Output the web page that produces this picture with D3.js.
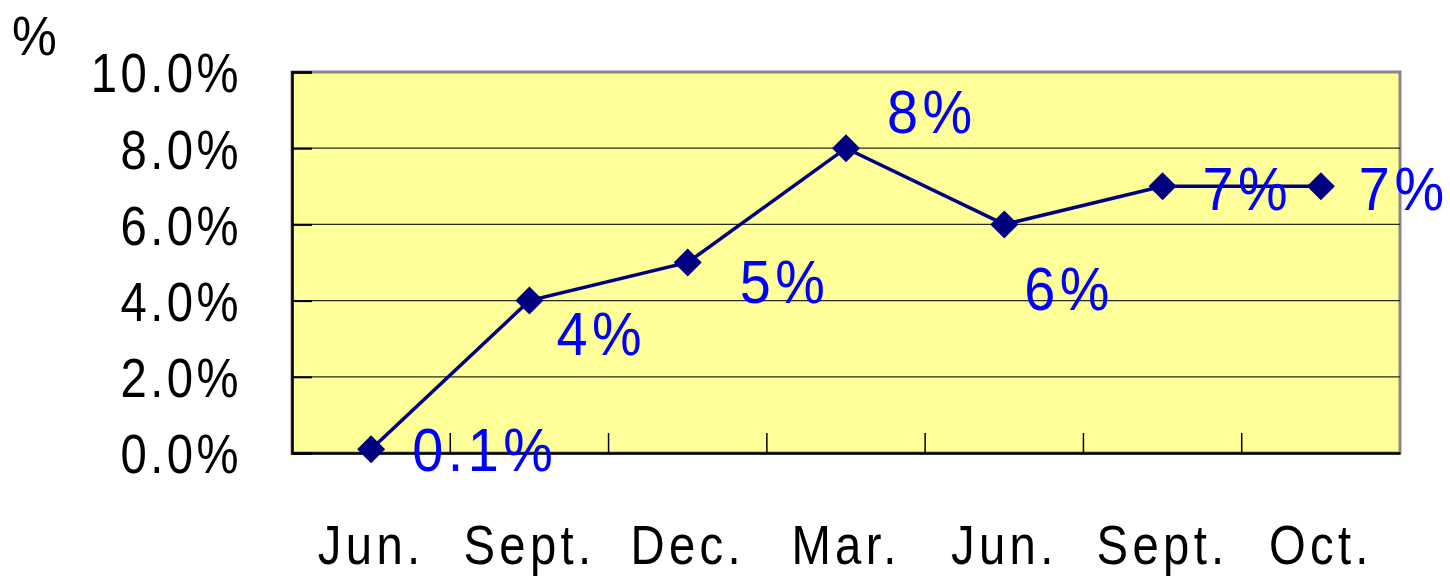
<!DOCTYPE html>
<html><head><meta charset="utf-8">
<script src="https://cdn.jsdelivr.net/npm/d3@7"></script>
<style>body{margin:0;background:#fff}svg{display:block}text{font-family:"Liberation Sans",Arial,sans-serif}</style>
</head><body><svg id="c" width="1450" height="578"></svg>
<script>
const categories = ["Jun.","Sept.","Dec.","Mar.","Jun.","Sept.","Oct."];
const values = [0.1, 4, 5, 8, 6, 7, 7];
const valueLabels = ["0.1%","4%","5%","8%","6%","7%","7%"];
const yTicks = [0, 2, 4, 6, 8, 10];
const labelOffsets = [[41,22],[27,54],[52,40],[41,-15],[20,86],[40,24],[38,24]];

const svg = d3.select("#c");
const L = 292, R = 1400, T = 72, B = 453;
const SX = 0.86;
const x = d3.scaleBand().domain(d3.range(categories.length)).range([L, R]);
const y = d3.scaleLinear().domain([0, 10]).range([B, T]);
const g = svg.append("g");

g.append("rect").attr("x", L).attr("y", T).attr("width", R-L).attr("height", B-T)
  .attr("fill", "#FFFF99").attr("stroke", "#888").attr("stroke-width", 3);

// gridlines
g.selectAll(".grid").data(yTicks.filter(d => d > 0 && d < 10)).join("line")
  .attr("x1", L).attr("x2", R).attr("y1", d => y(d)).attr("y2", d => y(d))
  .attr("stroke", "#2a2a1a").attr("stroke-width", 1.3);

// y axis
const yAxis = d3.axisLeft(y).tickValues(yTicks).tickSize(-20).tickFormat(d => d3.format(".1f")(d) + "%").tickPadding(52);
const ya = g.append("g").attr("transform", `translate(${L},0)`).call(yAxis);
ya.select(".domain").attr("stroke", "#000").attr("stroke-width", 2.5);
ya.selectAll(".tick line").attr("stroke", "#000").attr("stroke-width", 2);
ya.selectAll(".tick text").attr("font-size", 55).attr("fill", "#000").attr("letter-spacing", 4)
  .attr("dy", "0.36em").attr("x", 0).attr("transform", `translate(-50,0) scale(${SX},1)`);

// x axis
const xAxis = d3.axisBottom(x).tickFormat(i => categories[i]).tickSize(0).tickPadding(72);
const xa = g.append("g").attr("transform", `translate(0,${B})`).call(xAxis);
xa.select(".domain").attr("stroke", "#000").attr("stroke-width", 2.5);
xa.selectAll(".tick text").attr("font-size", 55).attr("fill", "#000").attr("letter-spacing", 5)
  .attr("transform", `scale(${SX},1)`);
g.selectAll(".xt").data(d3.range(1, categories.length)).join("line")
  .attr("x1", i => x(i)).attr("x2", i => x(i)).attr("y1", B).attr("y2", B-20)
  .attr("stroke", "#000").attr("stroke-width", 1.5);

// line
const cx = i => x(i) + x.bandwidth()/2;
g.append("path").datum(values)
  .attr("d", d3.line().x((d,i) => cx(i)).y(d => y(d)))
  .attr("fill", "none").attr("stroke", "#000080").attr("stroke-width", 3.5);
g.selectAll(".mk").data(values).join("path").attr("class", "mk")
  .attr("d", "M0,-14L14,0L0,14L-14,0Z")
  .attr("transform", (d,i) => `translate(${cx(i)},${y(d)})`)
  .attr("fill", "#000080");

// labels
g.selectAll(".lbl").data(values).join("text").attr("class", "lbl")
  .attr("transform", (d,i) => `translate(${cx(i) + labelOffsets[i][0]},${y(d) + labelOffsets[i][1]}) scale(0.9,1)`)
  .attr("font-size", 62).attr("fill", "#0000FF").attr("letter-spacing", 5)
  .text((d,i) => valueLabels[i]);

svg.append("text").attr("transform", "translate(12,55) scale(0.9,1)").attr("font-size", 56).text("%");
</script></body></html>
